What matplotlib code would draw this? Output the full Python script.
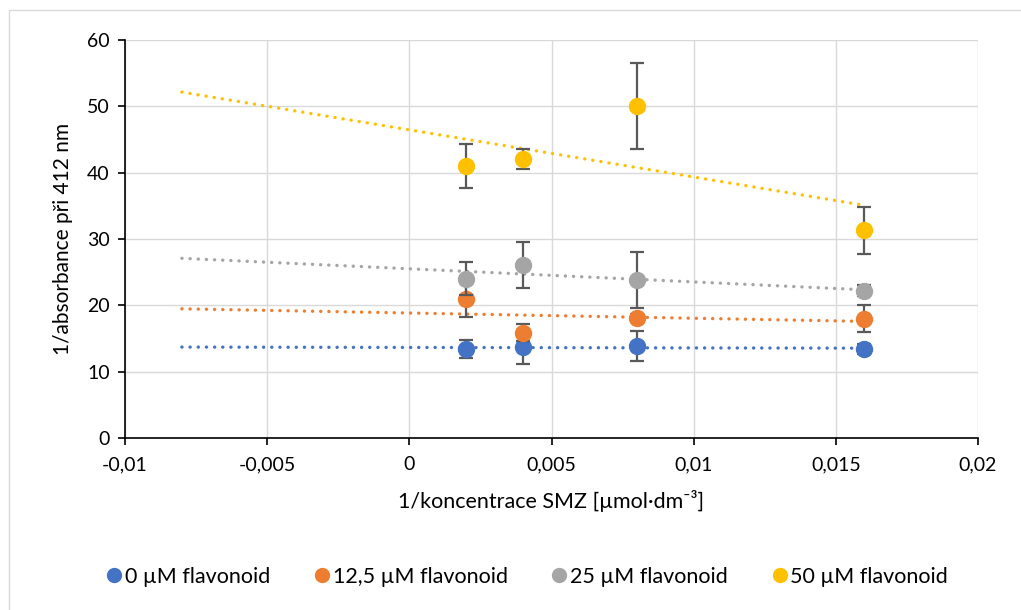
import numpy as np
import matplotlib
matplotlib.use("Agg")
import matplotlib.pyplot as plt
from matplotlib.lines import Line2D
from matplotlib.patches import Rectangle

# ---- data ----
x_vals = [0.002, 0.004, 0.008, 0.016]
series_labels = ["0 µM flavonoid", "12,5 µM flavonoid", "25 µM flavonoid", "50 µM flavonoid"]
y_0 = [13.4, 13.7, 13.9, 13.4]
err_0 = [1.3, 2.6, 2.3, 0.8]
y_125 = [21.0, 15.9, 18.1, 18.0]
err_125 = [2.7, 1.3, 0.6, 2.0]
y_25 = [24.0, 26.1, 23.8, 22.2]
err_25 = [2.5, 3.5, 4.2, 0.8]
y_50 = [41.0, 42.1, 50.1, 31.3]
err_50 = [3.3, 1.5, 6.5, 3.5]
colors = ["#4472C4", "#ED7D31", "#A5A5A5", "#FFC000"]
trend_range = [-0.008, 0.016]
x_ticks = [-0.01, -0.005, 0, 0.005, 0.01, 0.015, 0.02]
x_ticklabels = ["-0,01", "-0,005", "0", "0,005", "0,01", "0,015", "0,02"]
y_ticks = [0, 10, 20, 30, 40, 50, 60]

plt.rcParams['font.family'] = ['Lato', 'DejaVu Sans']
W, H = 1021, 610
fig = plt.figure(figsize=(W/100, H/100), dpi=100)
ax = fig.add_axes([125/W, 1-438/H, (978-125)/W, (438-40)/H])

# outer border
fig.patches.append(Rectangle((9/W, -0.1), 1.2, 1-10/H+0.1, transform=fig.transFigure,
                             fill=False, edgecolor="#D9D9D9", lw=1.0))

ys = [y_0, y_125, y_25, y_50]
errs = [err_0, err_125, err_25, err_50]
xs = np.array(x_vals)
xt = np.array(trend_range)
for i, (y, e, c) in enumerate(zip(ys, errs, colors)):
    p = np.polyfit(xs, y, 1)
    ax.plot(xt, np.polyval(p, xt), color=c, lw=2.4, linestyle=(0, (0.05, 2.4)),
            dash_capstyle='round', zorder=3 + i*0.01)
for i, (y, e, c) in enumerate(zip(ys, errs, colors)):
    ax.errorbar(xs, y, yerr=e, fmt='none', ecolor="#595959", elinewidth=1.6,
                capsize=5, capthick=1.6, zorder=4 + i*0.1)
    ax.plot(xs, y, 'o', color=c, ms=11.5, mec=c, zorder=4.05 + i*0.1, label=series_labels[i])

ax.set_xlim(-0.01, 0.02)
ax.set_ylim(0, 60)
ax.set_xticks(x_ticks)
ax.set_xticklabels(x_ticklabels)
ax.set_yticks(y_ticks)
ax.grid(True, color="#D9D9D9", lw=1.0, zorder=0)
ax.set_axisbelow(True)
for s in ["top", "right"]:
    ax.spines[s].set_visible(False)
for s in ["left", "bottom"]:
    ax.spines[s].set_color("black")
    ax.spines[s].set_linewidth(1.2)
ax.tick_params(axis='both', direction='out', length=5, width=1.2, color='black',
               labelsize=14, labelcolor='#000000')
ax.tick_params(axis='x', pad=8)
ax.tick_params(axis='y', pad=6)

ax.set_xlabel("1/koncentrace SMZ [µmol·dm⁻³]", fontsize=15.5, labelpad=12)
ax.set_ylabel("1/absorbance při 412 nm", fontsize=15, labelpad=10)

handles = [Line2D([], [], marker='o', ls='none', color=c, ms=10) for c in colors]
fig.legend(handles, series_labels, loc='center', bbox_to_anchor=(0.515, 1-577/H), ncol=4,
           frameon=False, fontsize=15.5, handletextpad=0.0, columnspacing=1.9,
           handlelength=1.0)

fig.savefig("out.png", dpi=100, facecolor="white")
